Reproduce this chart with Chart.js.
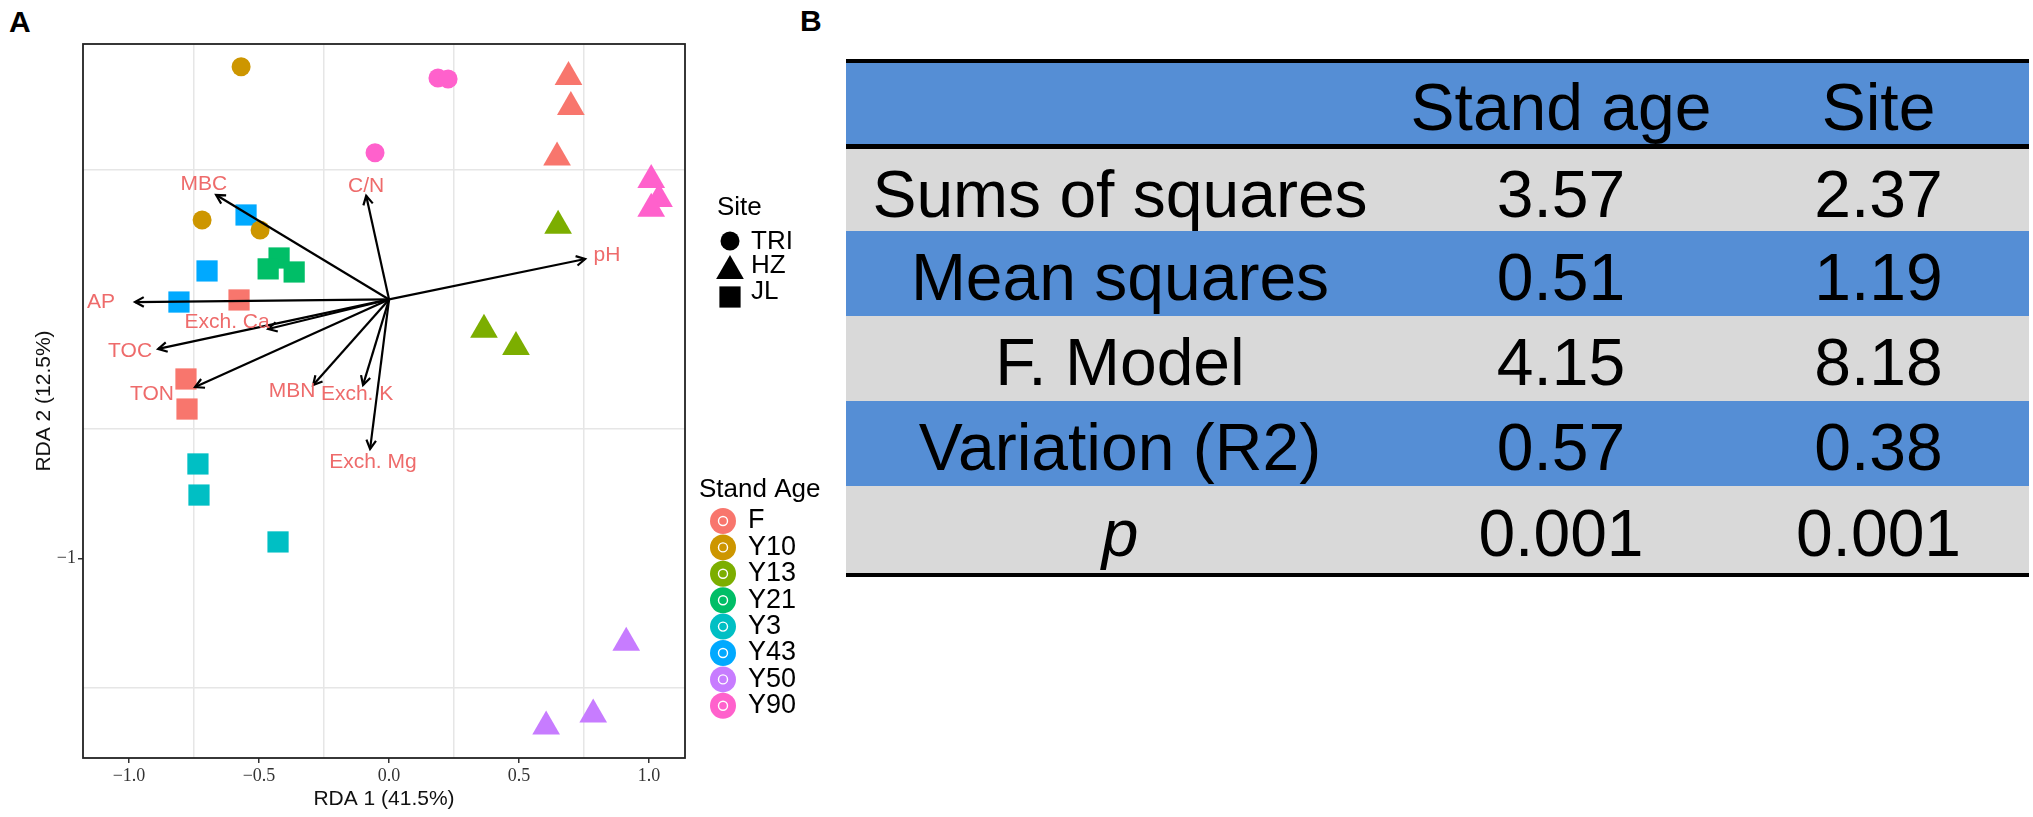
<!DOCTYPE html>
<html>
<head>
<meta charset="utf-8">
<script src="https://cdn.jsdelivr.net/npm/chart.js@4.4.1/dist/chart.umd.min.js"></script>
<style>
  html, body { margin: 0; padding: 0; background: #fff; }
  body { width: 2033px; height: 817px; position: relative; overflow: hidden; font-family: "Liberation Sans", Arial, sans-serif; }
  #rda { position: absolute; left: 0; top: 0; }
  .tag { position: absolute; font-weight: bold; font-size: 30px; line-height: 30px; color: #000; }
  #anova { position: absolute; left: 846px; top: 59px; width: 1183px; }
  #anova .rule { background: #000; }
  #anova .row { display: flex; }
  #anova .cell { display: flex; align-items: center; justify-content: center; font-size: 66px; line-height: 1; padding-top: 7px; box-sizing: border-box; color: #000; white-space: nowrap; }
</style>
</head>
<body>
<div class="tag" style="left:9px;top:7px">A</div>
<div class="tag" style="left:800px;top:6px">B</div>
<canvas id="rda" width="840" height="817"></canvas>
<div id="anova"></div>
<script>
// ---- panel A data ----
const ageNames = ['F', 'Y10', 'Y13', 'Y21', 'Y3', 'Y43', 'Y50', 'Y90']
const siteNames = ['TRI', 'HZ', 'JL']

const sampleAge = [
  'Y10', 'Y10', 'Y10', 'Y90', 'Y90', 'Y90',
  'F', 'F', 'F', 'Y13', 'Y13', 'Y13', 'Y50', 'Y50', 'Y50', 'Y90', 'Y90', 'Y90',
  'Y43', 'Y43', 'Y43', 'Y21', 'Y21', 'Y21', 'F', 'F', 'F', 'Y3', 'Y3', 'Y3'
]
const sampleSite = [
  'TRI', 'TRI', 'TRI', 'TRI', 'TRI', 'TRI',
  'HZ', 'HZ', 'HZ', 'HZ', 'HZ', 'HZ', 'HZ', 'HZ', 'HZ', 'HZ', 'HZ', 'HZ',
  'JL', 'JL', 'JL', 'JL', 'JL', 'JL', 'JL', 'JL', 'JL', 'JL', 'JL', 'JL'
]
const rda1 = [
  -0.569, -0.719, -0.496, 0.188, 0.227, -0.054,
  0.690, 0.699, 0.646, 0.650, 0.365, 0.488, 0.912, 0.785, 0.604, 1.008, 1.038, 1.008,
  -0.550, -0.700, -0.808, -0.423, -0.465, -0.365, -0.577, -0.781, -0.777, -0.735, -0.731, -0.427
]
const rda2 = [
  0.898, 0.307, 0.268, 0.855, 0.851, 0.566,
  0.859, 0.743, 0.548, 0.284, -0.117, -0.184, -1.325, -1.602, -1.648, 0.461, 0.388, 0.350,
  0.326, 0.110, -0.010, 0.160, 0.118, 0.106, -0.002, -0.307, -0.423, -0.635, -0.755, -0.936
]

// environmental vectors (arrow tips) and where their labels sit
const envVars = ['MBC', 'C/N', 'pH', 'AP', 'Exch. Ca', 'TOC', 'TON', 'MBN', 'Exch. K', 'Exch. Mg']
const arrowX = [-0.665, -0.088, 0.754, -0.977, -0.465, -0.888, -0.746, -0.292, -0.100, -0.073]
const arrowY = [0.403, 0.400, 0.156, -0.010, -0.114, -0.191, -0.338, -0.330, -0.330, -0.577]
const labelX = [-0.712, -0.088, 0.838, -1.108, -0.623, -0.996, -0.912, -0.373, -0.123, -0.062]
const labelY = [0.446, 0.438, 0.172, -0.010, -0.087, -0.199, -0.366, -0.355, -0.366, -0.628]

const xTickValues = [-1, -0.5, 0, 0.5, 1]
const xTickLabels = ['\u22121.0', '\u22120.5', '0.0', '0.5', '1.0']
const xGridValues = [-0.75, -0.25, 0.25, 0.75]
const yTickValues = [-1]
const yTickLabels = ['\u22121']
const yGridValues = [-1.5, -0.5, 0.5]

// ---- panel B data ----
const tableHeads = ['', 'Stand age', 'Site']
const statNames = ['Sums of squares', 'Mean squares', 'F. Model', 'Variation (R2)', 'p']
const standAgeStats = ['3.57', '0.51', '4.15', '0.57', '0.001']
const siteStats = ['2.37', '1.19', '8.18', '0.38', '0.001']

// ---- styles ----
const ageColors = ['#F8766D', '#CD9600', '#7CAE00', '#00BE67', '#00BFC4', '#00A9FF', '#C77CFF', '#FF61CC']
const siteShape = { TRI: 'circle', HZ: 'triangle', JL: 'rect' }
const siteRadius = { TRI: 9.5, HZ: 16, JL: 15 }
const siteOrder = { TRI: 1, JL: 2, HZ: 3 }
const sans = '"Liberation Sans", Arial, sans-serif'
const serif = '"Liberation Serif", "Times New Roman", serif'
const gridGrey = '#e6e6e6'
const clear = 'rgba(0,0,0,0)'
const labelRed = '#EE6B6B'

// arrows first so they are drawn over the points
const datasets = envVars.map((name, i) => ({
  label: name,
  isArrow: true,
  data: [{ x: 0, y: 0 }, { x: arrowX[i], y: arrowY[i] }],
  showLine: true,
  borderColor: '#000',
  borderWidth: 2.2,
  pointRadius: 0,
  order: 0
}))

siteNames.forEach(site => {
  ageNames.forEach((age, a) => {
    const pts = []
    sampleAge.forEach((s, i) => {
      if (s === age && sampleSite[i] === site) pts.push({ x: rda1[i], y: rda2[i] })
    })
    if (!pts.length) return
    datasets.push({
      label: age + ' ' + site,
      data: pts,
      pointStyle: siteShape[site],
      pointRadius: siteRadius[site],
      backgroundColor: ageColors[a],
      borderWidth: 0,
      order: siteOrder[site]
    })
  })
})

const overlay = {
  id: 'overlay',
  afterDatasetsDraw(chart) {
    const { ctx, scales: { x, y } } = chart
    ctx.save()
    // open arrow heads
    chart.data.datasets.forEach((ds, i) => {
      if (!ds.isArrow) return
      const [p0, p1] = chart.getDatasetMeta(i).data
      const ang = Math.atan2(p1.y - p0.y, p1.x - p0.x)
      ctx.strokeStyle = '#000'
      ctx.lineWidth = 2.2
      ctx.beginPath()
      ctx.moveTo(p1.x - 10 * Math.cos(ang - 0.5), p1.y - 10 * Math.sin(ang - 0.5))
      ctx.lineTo(p1.x, p1.y)
      ctx.lineTo(p1.x - 10 * Math.cos(ang + 0.5), p1.y - 10 * Math.sin(ang + 0.5))
      ctx.stroke()
    })
    // vector labels
    ctx.fillStyle = labelRed
    ctx.font = '21px ' + sans
    ctx.textAlign = 'center'
    ctx.textBaseline = 'middle'
    envVars.forEach((name, i) => {
      ctx.fillText(name, x.getPixelForValue(labelX[i]), y.getPixelForValue(labelY[i]))
    })
    ctx.restore()
  },
  afterDraw(chart) {
    const { ctx, chartArea: ca } = chart
    ctx.save()
    ctx.strokeStyle = '#222'
    ctx.lineWidth = 1.8
    ctx.strokeRect(ca.left, ca.top, ca.right - ca.left, ca.bottom - ca.top)

    const draw = Chart.helpers.drawPoint
    ctx.textAlign = 'left'
    ctx.textBaseline = 'middle'

    // Site legend
    ctx.fillStyle = '#000'
    ctx.font = '26px ' + sans
    ctx.fillText('Site', 717, 208)
    const siteY = [241, 271, 297]
    const siteTextY = [242, 266, 292]
    siteNames.forEach((s, i) => {
      ctx.fillStyle = '#000'
      draw(ctx, { pointStyle: siteShape[s], radius: siteRadius[s], rotation: 0, borderWidth: 0 }, 730, siteY[i])
      ctx.fillText(s, 751, siteTextY[i])
    })

    // Stand Age legend
    ctx.fillText('Stand Age', 699, 490)
    ctx.font = '27px ' + sans
    ageNames.forEach((age, i) => {
      const cy = 521 + i * 26.4
      ctx.fillStyle = ageColors[i]
      draw(ctx, { pointStyle: 'circle', radius: 13, rotation: 0, borderWidth: 0 }, 723, cy)
      ctx.strokeStyle = '#fff'
      ctx.lineWidth = 1.4
      ctx.beginPath()
      ctx.arc(723, cy, 4.5, 0, Math.PI * 2)
      ctx.stroke()
      ctx.fillStyle = '#000'
      ctx.fillText(age, 748, cy)
    })
    ctx.restore()
  }
}

const axisPart = (ticks, labels, grid) => ({
  type: 'linear',
  afterBuildTicks: s => {
    s.ticks = ticks.concat(grid).sort((a, b) => a - b).map(v => ({ value: v }))
  },
  grid: {
    color: c => grid.includes(c.tick.value) ? gridGrey : clear,
    tickColor: c => ticks.includes(c.tick.value) ? '#333' : clear,
    lineWidth: 1.5,
    tickWidth: 1.5,
    tickLength: 5
  },
  border: { display: false },
  ticks: {
    autoSkip: false,
    maxRotation: 0,
    padding: 2,
    color: '#333',
    font: { family: serif, size: 18 },
    callback: v => {
      const i = ticks.indexOf(v)
      return i < 0 ? '' : labels[i]
    }
  }
})

new Chart(document.getElementById('rda'), {
  type: 'scatter',
  data: { datasets },
  options: {
    responsive: false,
    animation: false,
    events: [],
    layout: { padding: { left: 0, top: 44, right: 155, bottom: 0 } },
    plugins: { legend: { display: false }, tooltip: { enabled: false } },
    scales: {
      x: Object.assign(axisPart(xTickValues, xTickLabels, xGridValues), {
        min: -1.177,
        max: 1.138,
        afterFit: s => { s.height = 59 },
        title: { display: true, text: 'RDA 1 (41.5%)', color: '#111', font: { family: sans, size: 21 }, padding: { top: 0, bottom: 5.4 } }
      }),
      y: Object.assign(axisPart(yTickValues, yTickLabels, yGridValues), {
        min: -1.770,
        max: 0.986,
        afterFit: s => { s.width = 83 },
        title: { display: true, text: 'RDA 2 (12.5%)', color: '#111', font: { family: sans, size: 21 }, padding: { top: 31.4, bottom: 0 } }
      })
    }
  },
  plugins: [overlay]
})

// ---- panel B table ----
const table = document.getElementById('anova')
const colWidths = [548, 334, 301]
const blue = '#558ED5'
const grey = '#D9D9D9'

function rule(h) {
  const d = document.createElement('div')
  d.className = 'rule'
  d.style.height = h + 'px'
  table.appendChild(d)
}
function row(cells, h, bg, italicFirst) {
  const r = document.createElement('div')
  r.className = 'row'
  r.style.height = h + 'px'
  r.style.background = bg
  cells.forEach((t, i) => {
    const c = document.createElement('div')
    c.className = 'cell'
    c.style.width = colWidths[i] + 'px'
    c.textContent = t
    if (i === 0 && italicFirst) c.style.fontStyle = 'italic'
    r.appendChild(c)
  })
  table.appendChild(r)
}

rule(4)
row(tableHeads, 81, blue)
rule(5)
const rowHeights = [82, 85, 85, 85, 87]
statNames.forEach((n, i) => {
  row([n, standAgeStats[i], siteStats[i]], rowHeights[i], i % 2 ? blue : grey, n === 'p')
})
rule(4)
</script>
</body>
</html>
